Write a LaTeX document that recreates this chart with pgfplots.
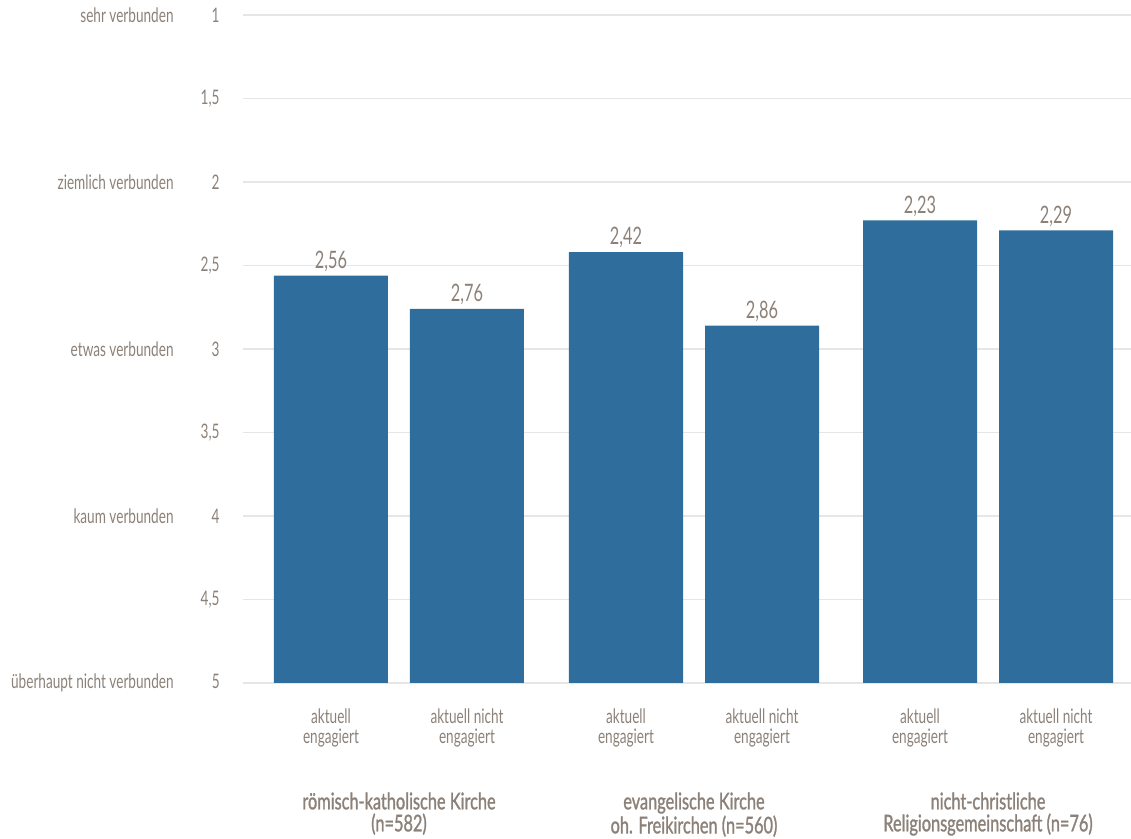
\documentclass[border=0pt]{standalone}
\usepackage{pgfplots}
\pgfplotsset{compat=1.18}
\usepackage{pgfplotstable}
\usepackage{fontspec}
\setmainfont{Lato}[FakeStretch=0.68]
\newfontfamily\grpfont{Lato}[FakeStretch=0.71,FakeBold=1.2]
\definecolor{txt}{HTML}{8C8178}
\definecolor{barblue}{HTML}{2F6D9D}
\definecolor{gridc}{HTML}{E6E6E6}
\pgfplotstableread{
x v
331 2.56
467 2.76
626 2.42
762 2.86
920 2.23
1056 2.29
}\datatab
\newcommand{\yl}[2]{\llap{#1\hspace{23pt}}\llap{#2}}
\begin{document}
\begin{tikzpicture}
\useasboundingbox (-121.5pt,-78pt) rectangle (444pt,341.5pt);
\begin{axis}[
  at={(0,0)}, anchor=south west,
  scale only axis, width=444pt, height=334pt,
  xmin=243, xmax=1131, ymin=0, ymax=4,
  axis line style={draw=none},
  major tick length=0pt,
  tick style={draw=none},
  ymajorgrids, grid style={color=gridc, line width=0.6pt},
  ytick={0,0.5,1,1.5,2,2.5,3,3.5,4},
  yticklabels={\yl{überhaupt nicht verbunden}{5},\yl{}{4,5},\yl{kaum verbunden}{4},\yl{}{3,5},\yl{etwas verbunden}{3},\yl{}{2,5},\yl{ziemlich verbunden}{2},\yl{}{1,5},\yl{sehr verbunden}{1}},
  yticklabel style={anchor=east, inner sep=0pt, xshift=-11pt, font=\fontsize{10}{10}\selectfont, text=txt},
  xtick={331,467,626,762,920,1056},
  xticklabels={{aktuell\\engagiert},{aktuell nicht\\engagiert},{aktuell\\engagiert},{aktuell nicht\\engagiert},{aktuell\\engagiert},{aktuell nicht\\engagiert}},
  xticklabel style={align=center, anchor=north, inner sep=0pt, yshift=-12.5pt, font=\fontsize{10}{10}\selectfont, text=txt},
  ybar, bar width=114,
  point meta=explicit,
  nodes near coords={\pgfmathprintnumber[fixed,precision=2,zerofill,use comma,assume math mode=true]{\pgfplotspointmeta}},
  every node near coord/.append style={font=\fontsize{12}{12}\selectfont, text=txt, inner sep=0pt, text depth=0pt, yshift=3.5pt},
  clip=false,
]
\addplot[fill=barblue, draw=none] table[x=x, y expr=5-\thisrow{v}, meta=v] {\datatab};
\node[anchor=north, align=center, inner sep=0pt, text=txt, font=\grpfont\fontsize{11.5}{11}\selectfont] at (axis cs:399,0) [yshift=-54.5pt] {römisch-katholische Kirche\\(n=582)};
\node[anchor=north, align=center, inner sep=0pt, text=txt, font=\grpfont\fontsize{11.5}{11}\selectfont] at (axis cs:694,0) [yshift=-54.5pt] {evangelische Kirche\\oh. Freikirchen (n=560)};
\node[anchor=north, align=center, inner sep=0pt, text=txt, font=\grpfont\fontsize{11.5}{11}\selectfont] at (axis cs:988,0) [yshift=-54.5pt] {nicht-christliche\\Religionsgemeinschaft (n=76)};
\end{axis}
\end{tikzpicture}
\end{document}
